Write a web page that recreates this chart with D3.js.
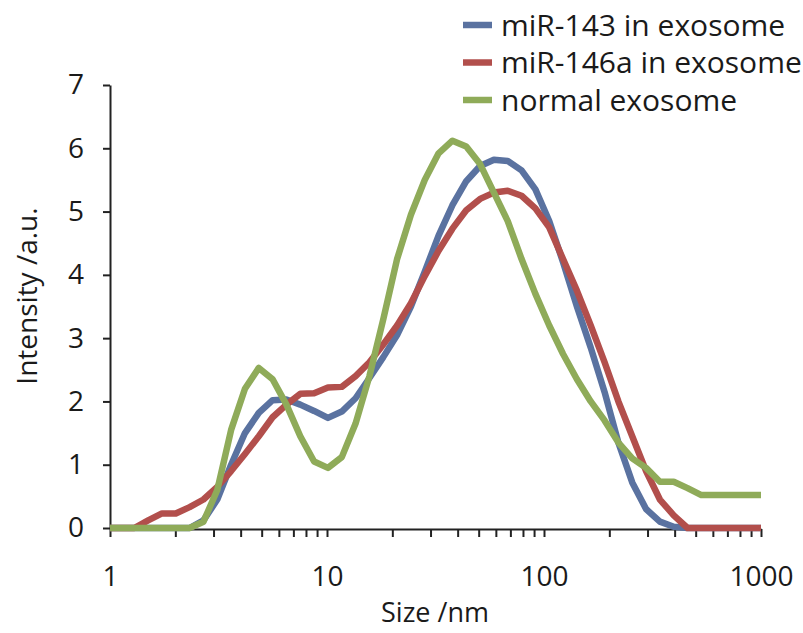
<!DOCTYPE html>
<html lang="en">
<head>
<meta charset="UTF-8">
<title>Size distribution</title>
<script src="https://d3js.org/d3.v7.min.js"></script>
<style>
  body { margin: 0; background: #fff; }
  svg text { font-family: "Open Sans", sans-serif; fill: #1a1a1a; }
</style>
</head>
<body>
<script>
// size bins (nm) and intensities
var sizes = [0.965, 1.117, 1.294, 1.499, 1.736, 2.010, 2.328, 2.696, 3.122, 3.615, 4.187, 4.849,
  5.615, 6.503, 7.531, 8.721, 10.10, 11.70, 13.54, 15.69, 18.17, 21.04, 24.36, 28.21, 32.67,
  37.84, 43.82, 50.75, 58.77, 68.06, 78.82, 91.28, 105.7, 122.4, 141.8, 164.2, 190.1, 220.2,
  255.0, 295.3, 342.0, 396.1, 458.7, 531.2, 615.1, 712.4, 825.0, 955.4, 1106];

var miR143 = [0, 0, 0, 0, 0, 0, 0, 0.12, 0.45, 1.0, 1.5, 1.82,
  2.02, 2.03, 1.95, 1.85, 1.74, 1.84, 2.05, 2.37, 2.7, 3.05, 3.5, 4.05, 4.62,
  5.1, 5.48, 5.72, 5.82, 5.8, 5.65, 5.35, 4.85, 4.2, 3.5, 2.85, 2.15, 1.35,
  0.72, 0.3, 0.1, 0.02, 0, 0, 0, 0, 0, 0, 0];

var miR146a = [0, 0, 0, 0.12, 0.23, 0.23, 0.33, 0.45, 0.65, 0.9, 1.17, 1.45,
  1.75, 1.95, 2.12, 2.13, 2.22, 2.23, 2.4, 2.62, 2.9, 3.2, 3.55, 3.98, 4.38,
  4.73, 5.02, 5.2, 5.3, 5.33, 5.25, 5.05, 4.75, 4.25, 3.75, 3.2, 2.62, 2.0,
  1.45, 0.9, 0.45, 0.2, 0, 0, 0, 0, 0, 0, 0];

var normal = [0, 0, 0, 0, 0, 0, 0, 0.1, 0.6, 1.55, 2.2, 2.53,
  2.35, 1.95, 1.45, 1.05, 0.95, 1.12, 1.65, 2.4, 3.3, 4.25, 4.95, 5.5, 5.92,
  6.12, 6.03, 5.75, 5.3, 4.85, 4.25, 3.7, 3.2, 2.75, 2.35, 2.0, 1.7, 1.35,
  1.1, 0.95, 0.73, 0.73, 0.63, 0.52, 0.52, 0.52, 0.52, 0.52, 0.52];

var seriesNames = ['miR-143 in exosome', 'miR-146a in exosome', 'normal exosome'];
var seriesColors = ['#5a72a0', '#b24f4c', '#8fab59'];
var yTicks = [0, 1, 2, 3, 4, 5, 6, 7];
var xLabels = [1, 10, 100, 1000];

var W = 803, H = 633;
var svg = d3.select('body').append('svg').attr('width', W).attr('height', H);

var x = d3.scaleLog().domain([1, 1000]).range([110, 761]);
var y = d3.scaleLinear().domain([0, 7]).range([528, 85]);

svg.append('defs').append('clipPath').attr('id', 'plotclip')
  .append('rect').attr('x', 110).attr('y', 0).attr('width', 651).attr('height', 560);

// axes
var minor = [];
[1, 10, 100].forEach(function(d){ for (var k = 1; k < 10; k++) minor.push(d * k); });
minor.push(1000);

var xAxis = svg.append('g')
  .attr('transform', 'translate(0,529)')
  .call(d3.axisBottom(x).tickValues(minor).tickSize(8).tickSizeOuter(0).tickPadding(29)
    .tickFormat(function(d){ return xLabels.indexOf(d) >= 0 ? d : ''; }));

var yAxis = svg.append('g')
  .attr('transform', 'translate(110,0)')
  .call(d3.axisLeft(y).tickValues(yTicks).tickSize(7).tickSizeOuter(0).tickPadding(19)
    .tickFormat(d3.format('d')));

[xAxis, yAxis].forEach(function(a){
  a.select('.domain').attr('stroke', '#222').attr('stroke-width', 2);
  a.selectAll('.tick line').attr('stroke', '#222').attr('stroke-width', 2);
  a.selectAll('text').attr('font-size', 28).attr('font-family', '"Open Sans", sans-serif').attr('fill', '#1a1a1a');
});

// lines
var line = d3.line()
  .x(function(d){ return x(d[0]); })
  .y(function(d){ return y(d[1]); });

var plot = svg.append('g').attr('clip-path', 'url(#plotclip)');
[miR143, miR146a, normal].forEach(function(vals, i){
  plot.append('path')
    .datum(sizes.map(function(s, j){ return [s, vals[j]]; }))
    .attr('fill', 'none')
    .attr('stroke', seriesColors[i])
    .attr('stroke-width', 6.5)
    .attr('stroke-linejoin', 'round')
    .attr('d', line);
});

// axis titles
svg.append('text')
  .attr('x', 435).attr('y', 622)
  .attr('text-anchor', 'middle')
  .attr('font-size', 27)
  .text('Size /nm');

svg.append('text')
  .attr('transform', 'translate(37,296) rotate(-90)')
  .attr('text-anchor', 'middle')
  .attr('font-size', 28)
  .text('Intensity /a.u.');

// legend
var legend = svg.append('g');
seriesNames.forEach(function(name, i){
  var ly = 25 + i * 37.5;
  legend.append('line')
    .attr('x1', 463).attr('x2', 492)
    .attr('y1', ly).attr('y2', ly)
    .attr('stroke', seriesColors[i]).attr('stroke-width', 6.5);
  legend.append('text')
    .attr('x', 501).attr('y', ly)
    .attr('dy', '0.35em')
    .attr('font-size', 30)
    .text(name);
});
</script>
</body>
</html>
